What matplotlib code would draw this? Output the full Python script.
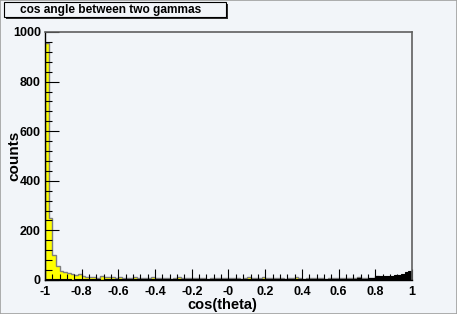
import numpy as np
import matplotlib.pyplot as plt
from matplotlib.patches import Rectangle
from matplotlib.ticker import MultipleLocator

plt.rcParams['font.family'] = ['Liberation Sans', 'DejaVu Sans']
plt.rcParams['font.weight'] = 'bold'

# histogram binning: 100 bins on [-1, 1]
edges = np.linspace(-1, 1, 101)

# cos angle between two gammas, first sample (yellow)
yellow_counts = [
    955, 250, 100, 55, 36, 33, 27, 24, 21, 24,
    17, 14, 13, 11, 10, 15, 14, 11, 12, 9,
    11, 10, 8, 9, 12, 9, 7, 10, 8, 11,
    9, 7, 10, 8, 6, 9, 11, 8, 7, 9,
    10, 8, 7, 9, 6, 8, 10, 7, 9, 8,
    7, 10, 8, 6, 9, 11, 7, 8, 10, 13,
    9, 8, 7, 10, 8, 6, 9, 8, 11, 7,
    6, 8, 10, 9, 7, 8, 6, 9, 10, 7,
    8, 9, 7, 10, 8, 11, 9, 8, 10, 9,
    17, 14, 13, 12, 14, 15, 17, 20, 24, 30,
]

# second sample (black)
black_counts = [
    4, 3, 5, 4, 3, 4, 3, 2, 4, 3,
    3, 4, 3, 4, 3, 2, 4, 3, 4, 3,
    4, 3, 3, 4, 3, 4, 3, 3, 4, 3,
    4, 3, 4, 4, 3, 4, 3, 4, 4, 3,
    4, 4, 3, 4, 4, 3, 4, 4, 5, 4,
    4, 5, 4, 4, 5, 4, 5, 4, 5, 5,
    4, 5, 5, 4, 5, 5, 4, 5, 5, 5,
    5, 5, 6, 5, 5, 6, 5, 6, 6, 5,
    6, 6, 5, 6, 6, 7, 6, 6, 7, 7,
    15, 15, 16, 17, 18, 19, 21, 23, 32, 35,
]

W, H = 457, 314
bg = '#f2f5f9'

fig = plt.figure(figsize=(W / 100, H / 100), dpi=100)
fig.patch.set_facecolor(bg)

# pixel box -> figure fraction helper
def px_rect(x0, y0, x1, y1):
    return (x0 / W, 1 - y1 / H, (x1 - x0) / W, (y1 - y0) / H)

l, b, w, h = px_rect(45, 32, 412, 280)
ax = fig.add_axes([l, b, w, h])
ax.set_facecolor(bg)

ax.stairs(yellow_counts, edges, fill=True, facecolor='#ffff00', edgecolor='none')
ax.stairs(yellow_counts, edges, color='#7f7f7f', linewidth=1.0)
ax.stairs(black_counts, edges, fill=True, facecolor='black', edgecolor='black', linewidth=0.8)

ax.set_xlim(-1, 1)
ax.set_ylim(0, 1000)

ax.xaxis.set_minor_locator(MultipleLocator(0.04))
ax.yaxis.set_major_locator(MultipleLocator(200))
ax.yaxis.set_minor_locator(MultipleLocator(40))
ax.set_xticks(np.arange(-1, 1.01, 0.2))
ax.set_xticklabels(['-1', '-0.8', '-0.6', '-0.4', '-0.2', '-0', '0.2', '0.4', '0.6', '0.8', '1'])

ax.tick_params(which='both', direction='in', labelsize=9, width=0.8, color='black')
ax.tick_params(axis='x', which='major', length=8, pad=4)
ax.tick_params(axis='x', which='minor', length=4)
ax.tick_params(axis='y', which='major', length=10, pad=3)
ax.tick_params(axis='y', which='minor', length=5)

for s in ('top', 'right'):
    ax.spines[s].set_color('#606060')
    ax.spines[s].set_linewidth(1.2)
for s in ('left', 'bottom'):
    ax.spines[s].set_color('black')
    ax.spines[s].set_linewidth(1.0)

ax.set_xlabel('cos(theta)', fontsize=10.5, fontweight='bold', va='center')
ax.xaxis.set_label_coords((222 - 45) / 367, -(305 - 280) / 248)
ax.set_ylabel('counts', fontsize=11, fontweight='bold', va='center')
ax.yaxis.set_label_coords(-(45 - 14) / 367, 0.5)

# title box with shadow, ROOT style
fig.patches.append(Rectangle(px_rect(6, 4, 228, 19)[:2], *px_rect(6, 4, 228, 19)[2:],
                             transform=fig.transFigure, facecolor='#303030',
                             edgecolor='none', zorder=1))
fig.patches.append(Rectangle(px_rect(4, 2, 226, 17)[:2], *px_rect(4, 2, 226, 17)[2:],
                             transform=fig.transFigure, facecolor=bg,
                             edgecolor='black', linewidth=0.8, zorder=2))
fig.text(20 / W, 1 - 9.5 / H, 'cos angle between two gammas', fontsize=8.6,
         fontweight='bold', va='center', ha='left', zorder=3)

# canvas border
fig.patches.append(Rectangle((0, 0), 1, 1, transform=fig.transFigure,
                             facecolor='none', edgecolor='#a0a0a0', linewidth=1.2))

fig.savefig('out.png', dpi=100, facecolor=bg)
